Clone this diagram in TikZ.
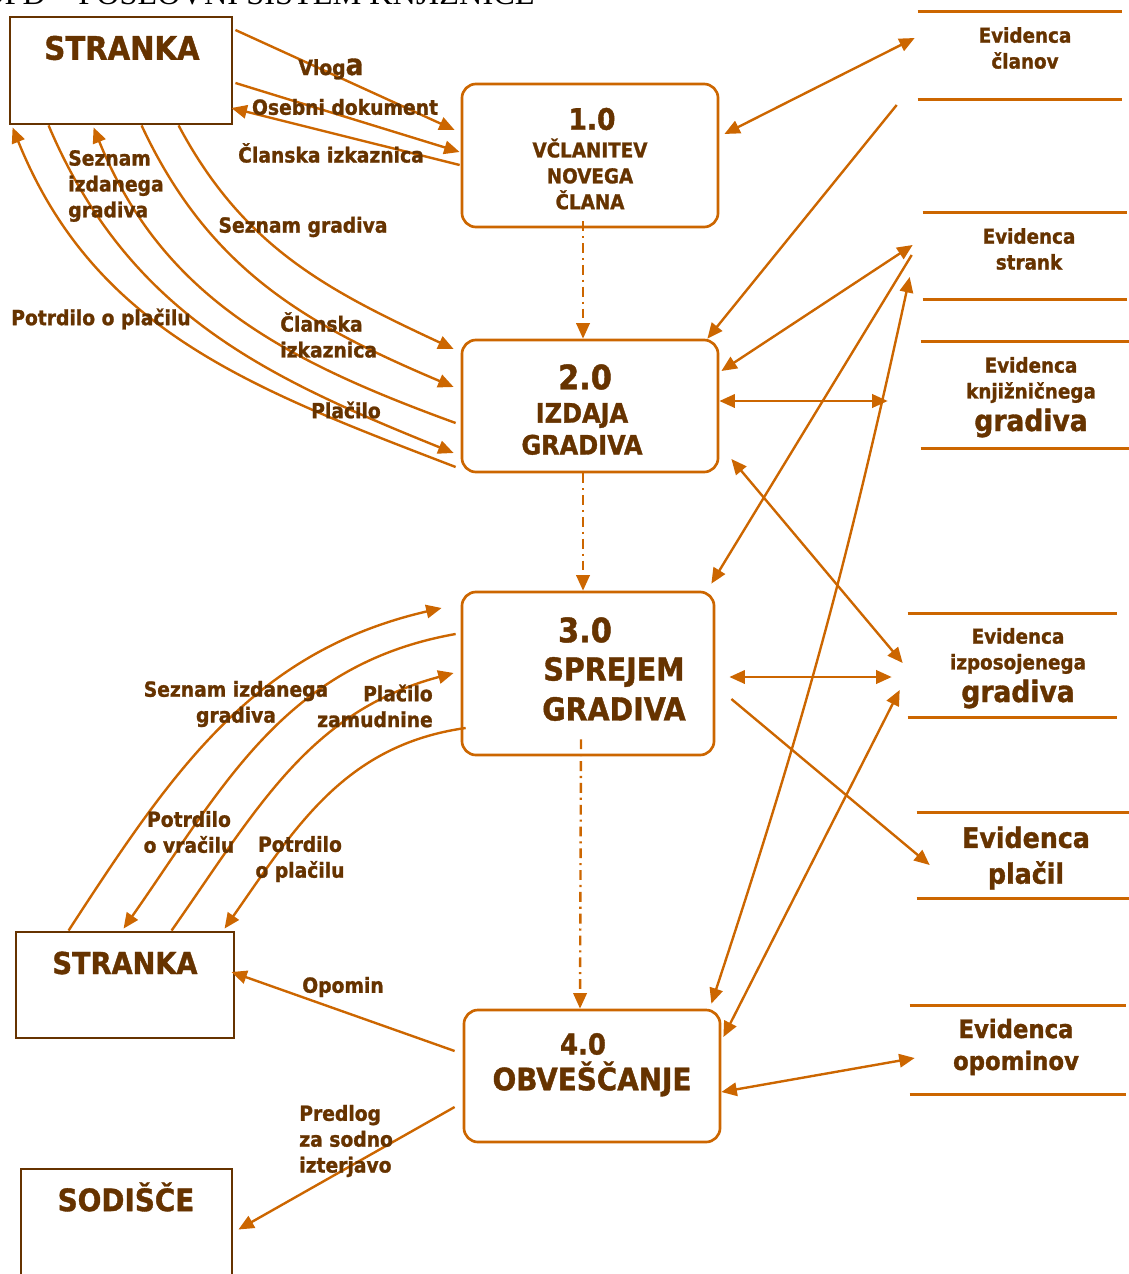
\documentclass[tikz,border=0pt]{standalone}
\usepackage{fontspec}
\setmainfont{DejaVu Sans Condensed}[BoldFont={DejaVu Sans Condensed Bold}, BoldFeatures={FakeBold=1.2}]
\newfontfamily\titlefont{Liberation Serif}
\usepackage{xcolor}
\usepackage{tikz}
\usetikzlibrary{arrows.meta}
\definecolor{dfdbrown}{HTML}{663300}
\definecolor{dfdorange}{HTML}{CC6600}

\begin{document}
\begin{tikzpicture}[x=0.025cm, y=0.025cm,
  entity/.style={draw=dfdbrown, line width=2pt, inner sep=0pt},
  process/.style={draw=dfdorange, line width=1.9pt, rounded corners=10pt, inner sep=0pt},
  store/.style={inner sep=0pt},
  storeline/.style={draw=dfdorange, line width=2.4pt},
  txt/.style={text=dfdbrown, inner sep=0pt, align=center},
  lbl/.style={txt, font=\fontsize{14.8}{18.4}\selectfont\bfseries},
  flow/.style={draw=dfdorange, line width=1.7pt, -{Triangle[length=11pt,width=9.5pt]}},
  flowboth/.style={draw=dfdorange, line width=1.7pt, {Triangle[length=11pt,width=9.5pt]}-{Triangle[length=11pt,width=9.5pt]}},
  control/.style={draw=dfdorange, line width=1.7pt, dash pattern=on 7pt off 3.5pt on 1.5pt off 3.5pt, -{Triangle[length=11pt,width=9.5pt]}}
]
\useasboundingbox (0,0) rectangle (1129,-1274);

% title (cut by the page)
\node[anchor=base east, inner sep=0pt, font=\titlefont\fontsize{23}{23}\selectfont] (title) at (535,-5) {DFD – POSLOVNI SISTEM KNJIŽNICE};

% entities
\node[entity, minimum width=5.55cm, minimum height=2.675cm] (stranka1) at (121,-70.5) {};
\node[txt, font=\fontsize{23}{23}\selectfont\bfseries] (stranka1t) at (122,-48) {STRANKA};
\node[entity, minimum width=5.45cm, minimum height=2.65cm] (stranka2) at (125,-985) {};
\node[txt, font=\fontsize{21.5}{21.5}\selectfont\bfseries] (stranka2t) at (125,-963) {STRANKA};
\node[entity, minimum width=5.275cm, minimum height=3.025cm] (sodisce) at (126.5,-1229.5) {};
\node[txt, font=\fontsize{22}{22}\selectfont\bfseries] (sodiscet) at (126,-1197) {SODIŠČE};

% processes
\node[process, minimum width=6.4cm, minimum height=3.575cm] (p1) at (590,-155.5) {};
\node[txt, font=\fontsize{21}{21}\selectfont\bfseries] (p1num) at (592,-119) {1.0};
\node[txt, font=\fontsize{14.5}{18.4}\selectfont\bfseries] (p1name) at (590,-174) {VČLANITEV\\NOVEGA\\ČLANA};
\node[process, minimum width=6.4cm, minimum height=3.3cm] (p2) at (590,-406) {};
\node[txt, font=\fontsize{24}{24}\selectfont\bfseries] (p2num) at (585,-377) {2.0};
\node[txt, font=\fontsize{19}{22.7}\selectfont\bfseries] (p2name) at (582,-429) {IZDAJA\\GRADIVA};
\node[process, minimum width=6.3cm, minimum height=4.075cm] (p3) at (588,-673.5) {};
\node[txt, font=\fontsize{24}{24}\selectfont\bfseries] (p3num) at (585,-630) {3.0};
\node[txt, font=\fontsize{22.5}{28.4}\selectfont\bfseries] (p3name) at (614,-689) {SPREJEM\\GRADIVA};
\node[process, minimum width=6.4cm, minimum height=3.3cm] (p4) at (592,-1076) {};
\node[txt, font=\fontsize{20.5}{20.5}\selectfont\bfseries] (p4num) at (583,-1044) {4.0};
\node[txt, font=\fontsize{22}{22}\selectfont\bfseries] (p4name) at (592,-1079) {OBVEŠČANJE};

% data stores
\node[store, minimum width=5.1cm, minimum height=2.175cm] (clani) at (1020,-55.5) {};
\node[store, minimum width=5.1cm, minimum height=2.15cm] (stranke) at (1025,-256) {};
\node[store, minimum width=5.2cm, minimum height=2.65cm] (gradivo) at (1025,-395) {};
\node[store, minimum width=5.225cm, minimum height=2.575cm] (izposoja) at (1012.5,-665.5) {};
\node[store, minimum width=5.3cm, minimum height=2.125cm] (placila) at (1023,-855.5) {};
\node[store, minimum width=5.4cm, minimum height=2.2cm] (opomini) at (1018,-1050) {};
\draw[storeline] (clani.north west) -- (clani.north east) (clani.south west) -- (clani.south east);
\draw[storeline] (stranke.north west) -- (stranke.north east) (stranke.south west) -- (stranke.south east);
\draw[storeline] (gradivo.north west) -- (gradivo.north east) (gradivo.south west) -- (gradivo.south east);
\draw[storeline] (izposoja.north west) -- (izposoja.north east) (izposoja.south west) -- (izposoja.south east);
\draw[storeline] (placila.north west) -- (placila.north east) (placila.south west) -- (placila.south east);
\draw[storeline] (opomini.north west) -- (opomini.north east) (opomini.south west) -- (opomini.south east);
\node[txt, font=\fontsize{14.5}{18.4}\selectfont\bfseries] (clanit) at (1025,-48) {Evidenca\\članov};
\node[txt, font=\fontsize{14.5}{18.4}\selectfont\bfseries] (strankt) at (1029,-249) {Evidenca\\strank};
\node[txt, font=\fontsize{14.5}{18.4}\selectfont\bfseries] (gradivt) at (1031,-380) {Evidenca\\knjižničnega};
\node[txt, font=\fontsize{21}{21}\selectfont\bfseries] (gradivt2) at (1031,-423) {gradiva};
\node[txt, font=\fontsize{14.5}{18.4}\selectfont\bfseries] (izpost) at (1018,-651) {Evidenca\\izposojenega};
\node[txt, font=\fontsize{21}{21}\selectfont\bfseries] (izpost2) at (1018,-694) {gradiva};
\node[txt, font=\fontsize{20}{25.5}\selectfont\bfseries] (placilat) at (1026,-858) {Evidenca\\plačil};
\node[txt, font=\fontsize{18}{22.7}\selectfont\bfseries] (opominit) at (1016,-1047) {Evidenca\\opominov};

% stranka - 1.0
\draw[flow] ([shift={(2,40.5)}]stranka1.east) -- ([shift={(-6,25.5)}]p1.west);
\draw[flow] ([shift={(2,-12.5)}]stranka1.east) -- ([shift={(-1,3.5)}]p1.west);
\draw[flow] ([shift={(-1,-9.5)}]p1.west) -- ([shift={(-2,-37.5)}]stranka1.east);
\node[lbl] (lvloga) at (331,-69) {Vlog{\fontsize{21}{21}\selectfont a}};
\node[lbl] (losebni) at (345,-107) {Osebni dokument};
\node[lbl] (lclanska) at (331,-153) {Članska izkaznica};

% stranka - 2.0
\draw[flow] ([shift={(-5,-61)}]p2.west) to[out=159,in=-68] ([shift={(4,-2)}]stranka1.south west);
\draw[flow] ([shift={(40,0)}]stranka1.south west) to[out=-67,in=158] ([shift={(-7,-47)}]p2.west);
\draw[flow] ([shift={(-5,-17)}]p2.west) to[out=160,in=-68] ([shift={(85,-2)}]stranka1.south west);
\draw[flow] ([shift={(133,0)}]stranka1.south west) to[out=-65,in=157] ([shift={(-7,19)}]p2.west);
\draw[flow] ([shift={(170,0)}]stranka1.south west) to[out=-62,in=155] ([shift={(-7,57)}]p2.west);
\node[lbl, anchor=west, align=left] (lizdano) at (68,-186) {Seznam\\izdanega\\gradiva};
\node[lbl] (lseznam) at (303,-227) {Seznam gradiva};
\node[lbl] (lpotrdilo) at (101,-319) {Potrdilo o plačilu};
\node[lbl, anchor=west, align=left] (lizkaznica) at (280,-335) {Članska\\izkaznica};
\node[lbl] (lplacilo) at (346,-410) {Plačilo};

% stranka - 3.0
\draw[flow] ([shift={(54,0)}]stranka2.north west) to[out=57,in=-167] ([shift={(-19,65.5)}]p3.west);
\draw[flow] ([shift={(-5,39.5)}]p3.west) to[out=-170,in=55] ([shift={(109,2)}]stranka2.north west);
\draw[flow] ([shift={(157,0)}]stranka2.north west) to[out=55,in=-165] ([shift={(-7,0.5)}]p3.west);
\draw[flow] ([shift={(5,-54.5)}]p3.west) to[out=-172,in=55] ([shift={(210,2)}]stranka2.north west);
\node[lbl] (lizdano2) at (236,-704) {Seznam izdanega\\gradiva};
\node[lbl, anchor=east, align=right] (lzamudnina) at (433,-706) {Plačilo\\zamudnine};
\node[lbl] (lvracilo) at (189,-832) {Potrdilo\\o vračilu};
\node[lbl] (lpotrdilo2) at (300,-859) {Potrdilo\\o plačilu};

% 4.0 - stranka, sodisce
\draw[flow] ([shift={(-8,25)}]p4.west) -- ([shift={(-4,13)}]stranka2.east);
\draw[flow] ([shift={(-8,-31)}]p4.west) -- ([shift={(5,0)}]sodisce.east);
\node[lbl] (lopomin) at (343,-987) {Opomin};
\node[lbl, anchor=west, align=left] (lpredlog) at (299,-1141) {Predlog\\za sodno\\izterjavo};

% control flow
\draw[control] ([shift={(-7,7)}]p1.south) -- ([shift={(-7,0)}]p2.north);
\draw[control] ([shift={(-7,0)}]p2.south) -- ([shift={(-5,0)}]p3.north);
\draw[control] ([shift={(-7,17)}]p3.south) -- ([shift={(-12,0)}]p4.north);

% processes - data stores
\draw[flowboth] ([shift={(-3,17.5)}]clani.west) -- ([shift={(5,21.5)}]p1.east);
\draw[flow] ([shift={(-21,-49.5)}]clani.west) -- ([shift={(-12,0)}]p2.north east);
\draw[flowboth] ([shift={(-10,11)}]stranke.west) -- ([shift={(2,35)}]p2.east);
\draw[flowboth] ([shift={(-33,-6)}]gradivo.west) -- ([shift={(0,5)}]p2.east);
\draw[flow] ([shift={(-11,1)}]stranke.west) -- ([shift={(-4,7)}]p3.north east);
\draw[flowboth] ([shift={(-13,-21)}]stranke.west) to[bend left=3] ([shift={(-10,5)}]p4.north east);
\draw[flowboth] ([shift={(-5,2.5)}]izposoja.west) -- ([shift={(12,-53)}]p2.east);
\draw[flowboth] ([shift={(-16,-11.5)}]izposoja.west) -- ([shift={(14,-3.5)}]p3.east);
\draw[flow] ([shift={(16,-25.5)}]p3.east) -- ([shift={(13,-9.5)}]placila.west);
\draw[flowboth] ([shift={(-8,-24.5)}]izposoja.west) -- ([shift={(2,39)}]p4.east);
\draw[flowboth] ([shift={(5,-8)}]opomini.west) -- ([shift={(0,-16)}]p4.east);
\end{tikzpicture}
\end{document}
